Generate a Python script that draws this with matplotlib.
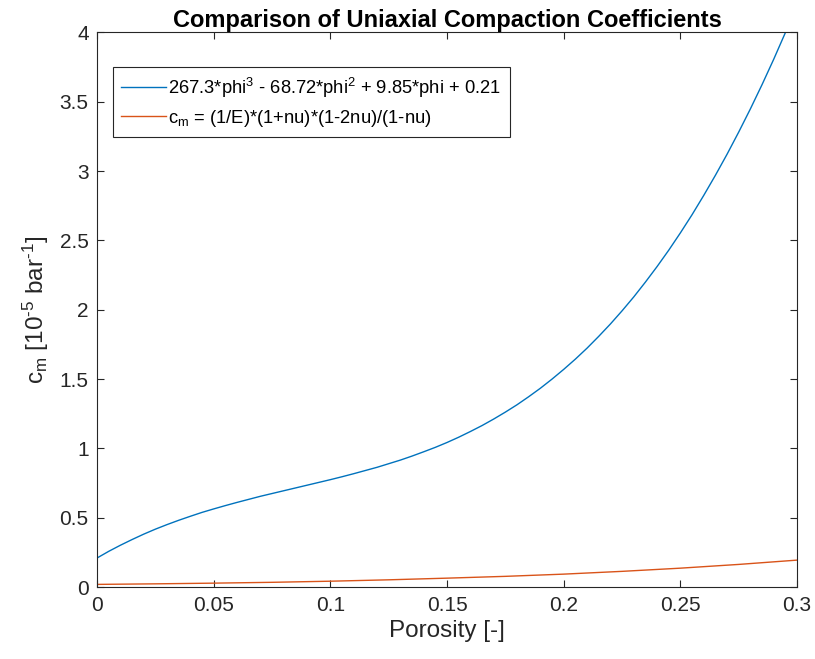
import matplotlib
matplotlib.use("Agg")
import matplotlib.pyplot as plt

plt.rcParams['font.family'] = ['Liberation Sans', 'DejaVu Sans']
plt.rcParams['mathtext.fontset'] = 'custom'
plt.rcParams['mathtext.rm'] = 'Liberation Sans'
plt.rcParams['mathtext.it'] = 'Liberation Sans'

# Porosity samples
phi = [0.000, 0.005, 0.010, 0.015, 0.020, 0.025, 0.030, 0.035, 0.040, 0.045,
       0.050, 0.055, 0.060, 0.065, 0.070, 0.075, 0.080, 0.085, 0.090, 0.095,
       0.100, 0.105, 0.110, 0.115, 0.120, 0.125, 0.130, 0.135, 0.140, 0.145,
       0.150, 0.155, 0.160, 0.165, 0.170, 0.175, 0.180, 0.185, 0.190, 0.195,
       0.200, 0.205, 0.210, 0.215, 0.220, 0.225, 0.230, 0.235, 0.240, 0.245,
       0.250, 0.255, 0.260, 0.265, 0.270, 0.275, 0.280, 0.285, 0.290, 0.295,
       0.300]
# Polynomial fit curve (blue)
cm_poly = [0.210, 0.258, 0.302, 0.343, 0.382, 0.418, 0.451, 0.482, 0.511, 0.539,
           0.564, 0.588, 0.611, 0.633, 0.655, 0.675, 0.695, 0.715, 0.735, 0.755,
           0.775, 0.796, 0.818, 0.841, 0.864, 0.890, 0.916, 0.945, 0.976, 1.008,
           1.043, 1.081, 1.122, 1.165, 1.212, 1.262, 1.315, 1.373, 1.434, 1.500,
           1.570, 1.644, 1.723, 1.808, 1.897, 1.992, 2.092, 2.199, 2.311, 2.429,
           2.554, 2.685, 2.824, 2.969, 3.121, 3.281, 3.448, 3.623, 3.806, 3.998,
           4.197]
# Elastic formula curve (orange)
phi_e = [0.000, 0.025, 0.050, 0.075, 0.100, 0.125, 0.150, 0.175, 0.200, 0.225,
         0.250, 0.275, 0.300]
cm_elastic = [0.020, 0.024, 0.029, 0.035, 0.043, 0.053, 0.065, 0.078, 0.094, 0.114,
              0.137, 0.164, 0.195]

labels = ['267.3*phi$^{3}$ - 68.72*phi$^{2}$ + 9.85*phi + 0.21',
          'c$_{m}$ = (1/E)*(1+nu)*(1-2nu)/(1-nu)']
xticks = [0, 0.05, 0.1, 0.15, 0.2, 0.25, 0.3]
xticklabels = ['0', '0.05', '0.1', '0.15', '0.2', '0.25', '0.3']
yticks = [0, 0.5, 1, 1.5, 2, 2.5, 3, 3.5, 4]
yticklabels = ['0', '0.5', '1', '1.5', '2', '2.5', '3', '3.5', '4']

fig = plt.figure(figsize=(8.15, 6.59), dpi=100)
ax = fig.add_axes([0.119, 0.109, 0.859, 0.842])

ax.plot(phi, cm_poly, color='#0072BD', lw=1.0, label=labels[0])
ax.plot(phi_e, cm_elastic, color='#D95319', lw=1.0, label=labels[1])

ax.set_xlim(0, 0.3)
ax.set_ylim(0, 4)
ax.set_xticks(xticks)
ax.set_xticklabels(xticklabels)
ax.set_yticks(yticks)
ax.set_yticklabels(yticklabels)

axcol = '#262626'
for s in ax.spines.values():
    s.set_color(axcol)
    s.set_linewidth(0.8)
ax.tick_params(direction='in', top=True, right=True, length=5, width=0.8,
               colors=axcol, labelsize=15, pad=6)

ax.set_xlabel('Porosity [-]', fontsize=17.5, color=axcol, labelpad=4)
ax.set_ylabel(r'c$_{m}$ [10$^{\text{-}5}$ bar$^{\text{-}1}$]', fontsize=17.5,
              color=axcol, labelpad=6)
ax.set_title('Comparison of Uniaxial Compaction Coefficients', fontsize=17,
             fontweight='bold', color='black', pad=4)

leg = ax.legend(loc='upper left', bbox_to_anchor=(0.023, 0.937), fontsize=13.2,
                frameon=True, fancybox=False, edgecolor=axcol, framealpha=1,
                handlelength=2.45, borderaxespad=0, borderpad=0.45, labelspacing=0.45,
                handletextpad=0.12)
leg.get_frame().set_linewidth(0.8)

fig.savefig('out.png', dpi=100)
